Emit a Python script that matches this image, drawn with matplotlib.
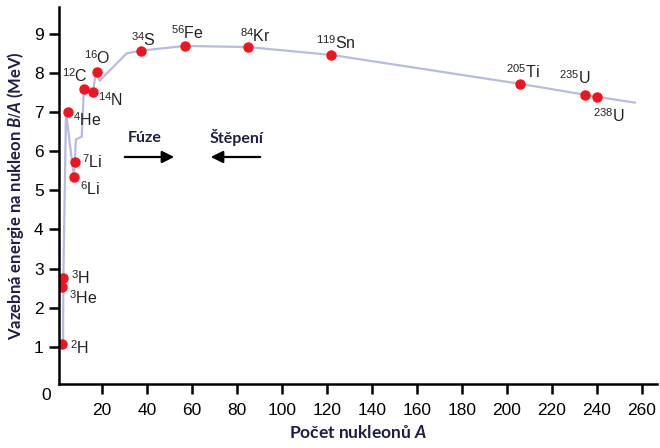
import matplotlib
matplotlib.use('Agg')
import matplotlib.pyplot as plt

plt.rcParams['mathtext.fontset'] = 'custom'
plt.rcParams['mathtext.rm'] = 'Liberation Sans'
plt.rcParams['mathtext.it'] = 'Lato:italic:bold'

# nuklidy (pocet nukleonu A, vazebna energie na nukleon v MeV)
labels = [r'$^{2}$H', r'$^{3}$H', r'$^{3}$He', r'$^{6}$Li', r'$^{7}$Li', r'$^{4}$He',
          r'$^{12}$C', r'$^{14}$N', r'$^{16}$O', r'$^{34}$S', r'$^{56}$Fe', r'$^{84}$Kr',
          r'$^{119}$Sn', r'$^{205}$Ti', r'$^{235}$U', r'$^{238}$U']
mass_num = [2.3, 2.7, 2.3, 7.5, 8, 4.8, 12, 16, 17.8, 37.3, 57, 85, 122, 206, 235, 240]
binding = [1.08, 2.75, 2.52, 5.33, 5.73, 7.0, 7.6, 7.5, 8.03, 8.57, 8.69, 8.66,
           8.46, 7.72, 7.44, 7.39]

# krivka
curve_A = [2.7, 2.85, 4, 7.5, 8, 8.4, 11, 12, 16, 17.3, 19, 31, 37.3, 57, 85, 122,
           206, 235, 240, 257]
curve_B = [1.07, 2.8, 7.0, 5.35, 5.76, 6.3, 6.37, 7.6, 7.5, 8.03, 7.8, 8.5, 8.57,
           8.69, 8.66, 8.46, 7.72, 7.44, 7.39, 7.24]

# posun popisku v pixelech a zarovnani
offsets = [(8, -4, 'left'), (8, 0, 'left'), (7, -11, 'left'), (6, -12, 'left'),
           (7, 0, 'left'), (5, -8, 'left'), (4, 13, 'right'), (5, -8, 'left'),
           (-13, 14, 'left'), (3, 11, 'center'), (2, 13, 'center'), (7, 11, 'center'),
           (5, 12, 'center'), (3, 12, 'center'), (-11, 17, 'center'), (12, -19, 'center')]

fig = plt.figure(figsize=(6.6, 4.48), dpi=100)
ax = fig.add_axes([0.0894, 0.143, 0.9056, 0.841])

ax.plot(curve_A, curve_B, color='#b7bbe0', lw=1.6, zorder=1)
ax.plot(mass_num, binding, 'o', color='#f0141e', ms=6.5, zorder=2)

for lab, a, b, (dx, dy, ha) in zip(labels, mass_num, binding, offsets):
    ax.annotate(lab, (a, b), xytext=(dx, dy), textcoords='offset pixels',
                ha=ha, va='center', fontsize=11.5, family='Liberation Sans',
                color='#222222')

navy = '#1e1e46'
ax.annotate('', xy=(177 / 660, 1 - 157 / 448), xytext=(122 / 660, 1 - 157 / 448),
            xycoords='figure fraction',
            arrowprops=dict(arrowstyle='-|>', color='black', lw=1.6,
                            mutation_scale=18))
ax.annotate('', xy=(208 / 660, 1 - 157 / 448), xytext=(263 / 660, 1 - 157 / 448),
            xycoords='figure fraction',
            arrowprops=dict(arrowstyle='-|>', color='black', lw=1.6,
                            mutation_scale=18))
fig.text(128 / 660, 1 - 138 / 448, 'Fúze', family='Lato', fontweight='bold',
         fontsize=11.5, color=navy, va='center')
fig.text(210 / 660, 1 - 138 / 448, 'Štěpení', family='Lato', fontweight='bold',
         fontsize=11.5, color=navy, va='center')

ax.set_xlim(0.9, 266.7)
ax.set_ylim(0.05, 9.68)
ax.set_xticks(range(20, 261, 20))
ax.set_yticks(range(1, 10))
ax.spines['top'].set_visible(False)
ax.spines['right'].set_visible(False)
for s in ['left', 'bottom']:
    ax.spines[s].set_linewidth(1.8)
ax.tick_params(width=1.8, length=7, labelsize=12.5, pad=4)
ax.tick_params(axis='x', pad=7)
for t in ax.get_xticklabels() + ax.get_yticklabels():
    t.set_family('Liberation Sans')
fig.text(46 / 660, 1 - 395 / 448, '0', family='Liberation Sans', fontsize=12.5,
         ha='center', va='center')

ax.set_ylabel('Vazebná energie na nukleon $B/A$ (MeV)', family='Lato',
              fontweight='bold', fontsize=12, color=navy, labelpad=6)
ax.set_xlabel('Počet nukleonů $A$', family='Lato', fontweight='bold',
              fontsize=12.5, color=navy, labelpad=4)

fig.savefig('out.png', dpi=100)
